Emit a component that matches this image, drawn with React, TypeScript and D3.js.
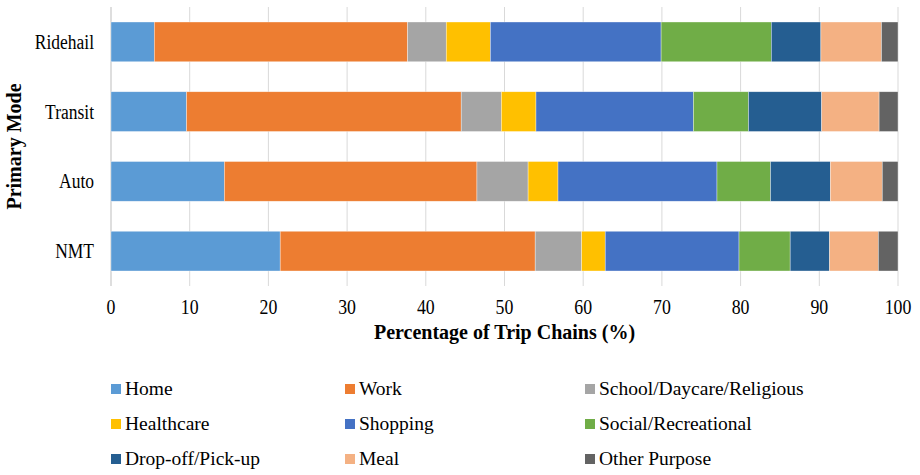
import React from "react";
import * as d3 from "d3";

const modes = ["Ridehail", "Transit", "Auto", "NMT"];
const purposes = [
  "Home",
  "Work",
  "School/Daycare/Religious",
  "Healthcare",
  "Shopping",
  "Social/Recreational",
  "Drop-off/Pick-up",
  "Meal",
  "Other Purpose",
];
const colors = ["#5B9BD5", "#ED7D31", "#A5A5A5", "#FFC000", "#4472C4", "#70AD47", "#255E91", "#F4B183", "#636363"];

const ridehail = [5.5, 32.2, 4.9, 5.6, 21.7, 14.0, 6.3, 7.7, 2.1];
const transit = [9.6, 34.9, 5.1, 4.4, 20.0, 7.0, 9.3, 7.3, 2.4];
const auto = [14.4, 32.1, 6.5, 3.8, 20.2, 6.8, 7.6, 6.6, 2.0];
const nmt = [21.5, 32.4, 5.9, 3.0, 17.0, 6.5, 5.0, 6.2, 2.5];
const seriesByMode = [ridehail, transit, auto, nmt];

const xTicks = [0, 10, 20, 30, 40, 50, 60, 70, 80, 90, 100];

const W = 920;
const H = 475;
const FONT = "'Liberation Serif', 'Times New Roman', serif";

export default function App() {
  const left = 111;
  const right = 898;
  const top = 7;
  const bottom = 286;
  const x = d3.scaleLinear().domain([0, 100]).range([left, right]);
  const y = d3.scaleBand().domain(modes).range([top, bottom]).paddingInner(0.43).paddingOuter(0.215);

  const rows = modes.map((m, i) => {
    const vals = seriesByMode[i];
    const cum = d3.cumsum(vals);
    return vals.map((v, j) => ({ mode: m, j, x0: cum[j] - v, x1: cum[j] }));
  });

  const legendCols = [111, 345, 585];
  const legendRows = [395, 430, 465];

  return (
    <svg width={W} height={H} style={{ position: "absolute", left: 0, top: 0, background: "#fff" }} fontFamily={FONT}>
      <rect x={0} y={0} width={W} height={H} fill="#fff" />
      {xTicks.map((t) => (
        <line key={t} x1={x(t)} x2={x(t)} y1={top} y2={bottom} stroke="#d9d9d9" strokeWidth={1} />
      ))}
      <line x1={left} x2={left} y1={top} y2={bottom} stroke="#d0d0d0" strokeWidth={1} />
      {rows.map((segs, i) =>
        segs.map((s) => (
          <rect
            key={modes[i] + s.j}
            x={x(s.x0)}
            y={y(s.mode)!}
            width={x(s.x1) - x(s.x0)}
            height={y.bandwidth()}
            fill={colors[s.j]}
            stroke="#ffffff"
            strokeOpacity={0.6}
            strokeWidth={0.6}
          />
        ))
      )}
      {modes.map((m) => (
        <text
          key={m}
          transform={`translate(94,${y(m)! + y.bandwidth() / 2 + 7}) scale(1,1.14)`}
          textAnchor="end"
          fontSize={17.5}
          fill="#000"
        >
          {m}
        </text>
      ))}
      {xTicks.map((t) => (
        <text
          key={"l" + t}
          transform={`translate(${x(t)},314) scale(1,1.15)`}
          textAnchor="middle"
          fontSize={17.8}
          fill="#000"
        >
          {t}
        </text>
      ))}
      <text x={(left + right) / 2} y={339} textAnchor="middle" fontSize={20} fontWeight="bold" fill="#000">
        Percentage of Trip Chains (%)
      </text>
      <text
        transform={`translate(21,${(top + bottom) / 2}) rotate(-90)`}
        textAnchor="middle"
        fontSize={20}
        fontWeight="bold"
        fill="#000"
      >
        Primary Mode
      </text>
      {purposes.map((p, k) => {
        const cx = legendCols[k % 3];
        const cy = legendRows[Math.floor(k / 3)];
        return (
          <g key={p}>
            <rect x={cx} y={cy - 11} width={10} height={10} fill={colors[k]} />
            <text x={cx + 14} y={cy} fontSize={19.5} fill="#000">
              {p}
            </text>
          </g>
        );
      })}
    </svg>
  );
}
